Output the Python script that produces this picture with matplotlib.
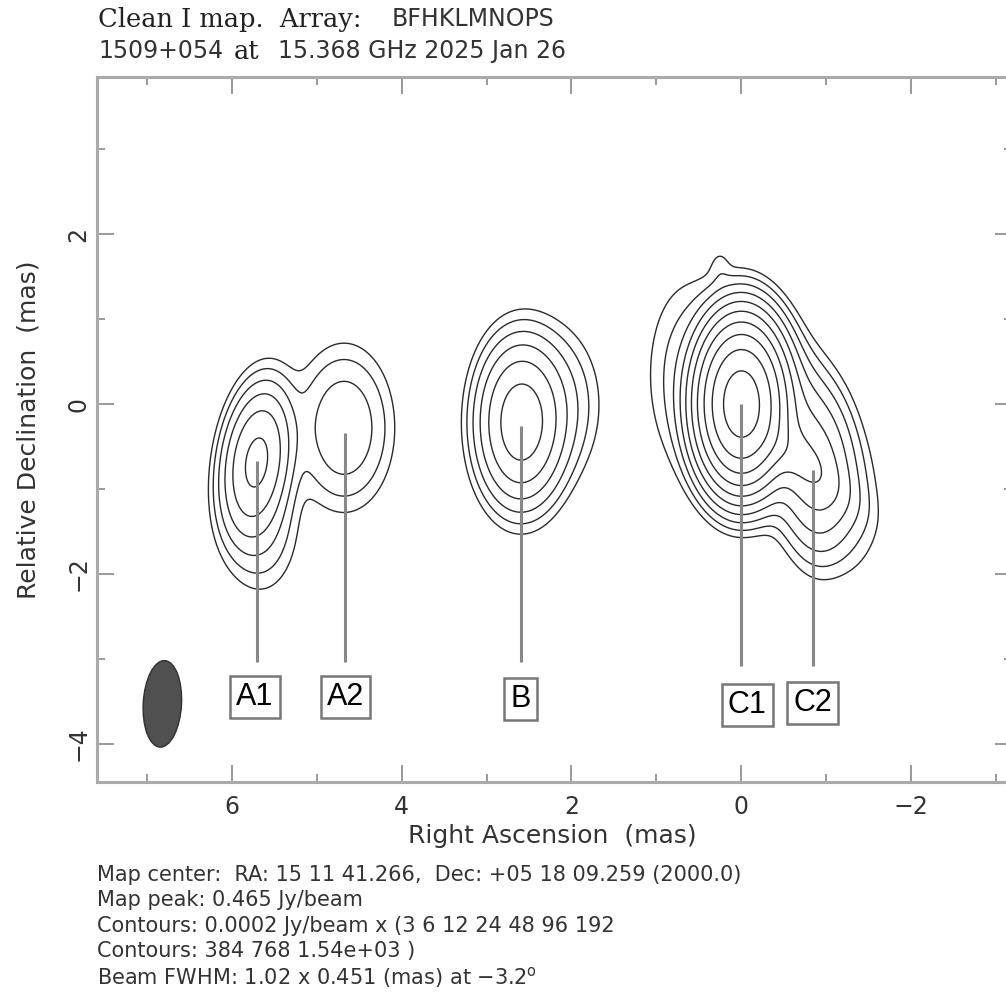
import numpy as np
import matplotlib
matplotlib.use('Agg')
import matplotlib.pyplot as plt
from matplotlib.patches import Ellipse
from matplotlib.ticker import MultipleLocator

# clean map components: position (mas), peak (Jy/beam), widths (mas), PA (deg)
comp_ra = [0.00, -0.60, -0.90, -0.50, 0.65, 0.25, 2.60, 2.20, 5.71, 5.65, 4.68]
comp_dec = [0.00, -0.35, -0.85, -0.50, 0.35, 1.62, -0.22, 0.00, -0.67, -1.45, -0.28]
comp_peak = [0.440, 0.011, 0.006, 0.012, 0.0015, 0.0005, 0.028, 0.0025, 0.022, 0.002, 0.0042]
comp_sx = [0.23, 0.32, 0.21, 0.16, 0.30, 0.08, 0.25, 0.30, 0.20, 0.25, 0.30]
comp_sy = [0.43, 0.70, 0.50, 0.45, 0.70, 0.15, 0.47, 0.50, 0.45, 0.45, 0.50]
comp_pa = [0, 24, 0, 47, 0, 0, 0, 0, -8, 0, 0]

map_peak = 0.465
base_level = 0.0002
level_mult = [3, 6, 12, 24, 48, 96, 192, 384, 768, 1536]

beam_maj, beam_min, beam_pa = 1.02, 0.451, -3.2

# labelled features
lab_names = ['A1', 'A2', 'B', 'C1', 'C2']
lab_ra = [5.71, 4.67, 2.59, 0.00, -0.85]
lab_dec = [-0.67, -0.34, -0.26, 0.00, -0.78]
lab_end = [-3.04, -3.04, -3.04, -3.09, -3.09]
box_ra = [5.73, 4.66, 2.60, -0.07, -0.84]
box_dec = [-3.45, -3.45, -3.47, -3.54, -3.52]


def model_map(x, y):
    z = np.zeros_like(x)
    for ra, dec, p, sx, sy, pa in zip(comp_ra, comp_dec, comp_peak, comp_sx, comp_sy, comp_pa):
        t = np.radians(pa)
        dx = x - ra
        dy = y - dec
        u = dx * np.cos(t) - dy * np.sin(t)
        v = dx * np.sin(t) + dy * np.cos(t)
        z += p * np.exp(-0.5 * ((u / sx) ** 2 + (v / sy) ** 2))
    return z


xx, yy = np.meshgrid(np.arange(-3.4, 7.8, 0.01), np.arange(-4.6, 4.0, 0.01))
zz = model_map(xx, yy)
zz *= map_peak / zz.max()
levels = [base_level * m for m in level_mult]

W, H = 1006, 994
fig = plt.figure(figsize=(W / 100, H / 100), dpi=100)
ax = fig.add_axes([97 / W, 1 - 782 / H, 915 / W, 705 / H])

ax.contour(xx, yy, zz, levels=levels, colors='#2a2a2a', linewidths=1.0)

ax.add_patch(Ellipse((6.82, -3.53), width=beam_min, height=beam_maj, angle=-beam_pa,
                     facecolor='#505050', edgecolor='#303030', lw=1.0))

for name, ra, dec, end, bx, by in zip(lab_names, lab_ra, lab_dec, lab_end, box_ra, box_dec):
    ax.plot([ra, ra], [dec, end], color='#888888', lw=2.2, solid_capstyle='butt')
    ax.text(bx, by, name, ha='center', va='center', fontsize=22,
            family=['Liberation Sans Narrow', 'Liberation Sans'], color='black',
            bbox=dict(boxstyle='square,pad=0.2', fc='white', ec='#777777', lw=1.8))

ax.set_xlim(7.59, -3.19)
ax.set_ylim(-4.45, 3.85)
ax.xaxis.set_major_locator(MultipleLocator(2))
ax.xaxis.set_minor_locator(MultipleLocator(1))
ax.yaxis.set_major_locator(MultipleLocator(2))
ax.yaxis.set_minor_locator(MultipleLocator(1))
ax.tick_params(which='both', direction='in', top=True, right=True, color='#888888', width=1.2,
               labelsize=17, labelcolor='#333333')
ax.tick_params(which='major', length=12)
ax.tick_params(which='minor', length=6)
ax.tick_params(axis='x', pad=9)
ax.tick_params(axis='y', pad=5)
for lab in ax.get_yticklabels():
    lab.set_rotation(90)
    lab.set_va('center')
for s in ax.spines.values():
    s.set_color('#aaaaaa')
    s.set_linewidth(2.2)

ax.set_xlabel('Right Ascension  (mas)', fontsize=18, color='#333333')
ax.set_ylabel('Relative Declination  (mas)', fontsize=18, color='#333333')
ax.xaxis.set_label_coords(0.498, -0.077)
ax.xaxis.label.set_va('center')
ax.yaxis.set_label_coords(-0.075, 0.50)
ax.yaxis.label.set_va('center')

# header lines
fig.text(98 / W, 1 - 19 / H, 'Clean I map.  Array:', family='DejaVu Serif', fontsize=18.5,
         va='center', color='#222222')
fig.text(392 / W, 1 - 19 / H, 'BFHKLMNOPS', family='DejaVu Sans', fontsize=17,
         va='center', color='#333333')
fig.text(98 / W, 1 - 51 / H, '1509+054', family='DejaVu Sans', fontsize=17,
         va='center', color='#333333')
fig.text(234 / W, 1 - 51 / H, 'at', family='DejaVu Serif', fontsize=18.5,
         va='center', color='#222222')
fig.text(278 / W, 1 - 51 / H, '15.368 GHz 2025 Jan 26', family='DejaVu Sans', fontsize=17,
         va='center', color='#333333')

footer = ['Map center:  RA: 15 11 41.266,  Dec: +05 18 09.259 (2000.0)',
          'Map peak: 0.465 Jy/beam',
          'Contours: 0.0002 Jy/beam x (3 6 12 24 48 96 192',
          'Contours: 384 768 1.54e+03 )',
          r'Beam FWHM: 1.02 x 0.451 (mas) at $-$3.2$^{\rm o}$']
for i, line in enumerate(footer):
    fig.text(97 / W, 1 - (875 + 25.5 * i) / H, line, fontsize=15, va='center', color='#333333')

fig.savefig('out.png', dpi=100)
